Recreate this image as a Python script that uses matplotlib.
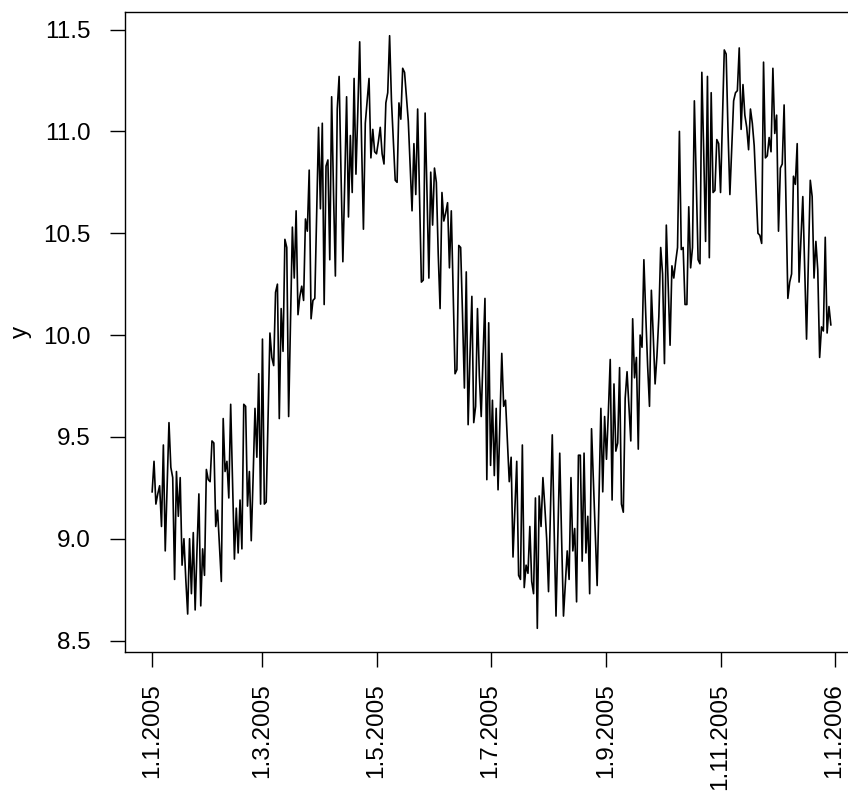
import numpy as np
import pandas as pd
import matplotlib
matplotlib.use("Agg")
import matplotlib.pyplot as plt

plt.rcParams['font.family'] = ['Liberation Sans', 'DejaVu Sans']

# daily values, starting 1.1.2005
jan = [9.23, 9.38, 9.17, 9.22, 9.26, 9.06, 9.46, 8.94, 9.25, 9.57,
       9.35, 9.30, 8.80, 9.33, 9.11, 9.30, 8.87, 9.00, 8.80, 8.63,
       9.00, 8.73, 9.03, 8.65, 8.95, 9.22, 8.67, 8.95, 8.82, 9.34, 9.29]
feb = [9.28, 9.48, 9.47, 9.06, 9.14, 8.96, 8.79, 9.59, 9.33, 9.38,
       9.20, 9.66, 9.28, 8.90, 9.15, 8.93, 9.19, 8.95, 9.66, 9.65,
       9.16, 9.33, 8.99, 9.30, 9.64, 9.40, 9.81, 9.17]
mar = [9.98, 9.17, 9.18, 9.60, 10.01, 9.89, 9.85, 10.21, 10.25, 9.59,
       10.13, 9.92, 10.47, 10.43, 9.60, 10.06, 10.53, 10.28, 10.61, 10.10,
       10.19, 10.24, 10.17, 10.57, 10.51, 10.81, 10.08, 10.17, 10.18, 10.60, 11.02]
apr = [10.62, 11.04, 10.15, 10.83, 10.86, 10.37, 11.17, 10.70, 10.29, 11.11,
       11.27, 10.80, 10.36, 10.75, 11.17, 10.58, 10.98, 10.70, 11.26, 10.79,
       11.10, 11.44, 10.95, 10.52, 11.04, 11.15, 11.26, 10.87, 11.01, 10.90]
may = [10.89, 10.95, 11.02, 10.89, 10.84, 11.14, 11.19, 11.47, 11.15, 10.95,
       10.76, 10.75, 11.14, 11.06, 11.31, 11.29, 11.17, 11.05, 10.83, 10.61,
       10.94, 10.69, 11.11, 10.68, 10.26, 10.27, 11.09, 10.70, 10.28, 10.80, 10.54]
jun = [10.82, 10.75, 10.40, 10.13, 10.70, 10.56, 10.60, 10.65, 10.33, 10.61,
       10.20, 9.81, 9.83, 10.44, 10.43, 10.10, 9.74, 10.31, 9.56, 9.90,
       10.19, 9.57, 9.65, 10.13, 9.80, 9.60, 9.90, 10.18, 9.29, 10.06]
jul = [9.36, 9.68, 9.31, 9.64, 9.24, 9.58, 9.91, 9.65, 9.68, 9.48,
       9.28, 9.40, 8.91, 9.15, 9.38, 8.82, 8.80, 9.46, 8.76, 8.87,
       8.83, 9.06, 8.79, 8.73, 9.20, 8.56, 9.21, 9.06, 9.30, 9.16, 9.00]
aug = [8.74, 9.12, 9.51, 9.05, 8.62, 9.02, 9.42, 9.00, 8.62, 8.78,
       8.94, 8.80, 9.30, 8.94, 9.05, 8.69, 9.41, 9.41, 8.89, 9.42,
       8.93, 9.11, 8.73, 9.54, 9.28, 9.02, 8.77, 9.20, 9.64, 9.23, 9.60]
sep = [9.39, 9.62, 9.88, 9.19, 9.76, 9.43, 9.47, 9.84, 9.17, 9.13,
       9.69, 9.82, 9.65, 9.48, 10.08, 9.79, 9.89, 9.44, 10.00, 9.94,
       10.37, 10.10, 9.85, 9.65, 10.22, 10.00, 9.76, 9.90, 10.09, 10.43]
oct_ = [10.30, 9.86, 10.54, 10.25, 9.95, 10.34, 10.28, 10.36, 10.43, 11.00,
        10.42, 10.43, 10.15, 10.15, 10.63, 10.33, 10.43, 11.15, 10.75, 10.37,
        10.35, 11.29, 10.90, 10.46, 11.27, 10.38, 11.19, 10.70, 10.71, 10.96, 10.94]
nov = [10.70, 11.05, 11.40, 11.38, 11.00, 10.69, 10.92, 11.15, 11.19, 11.20,
       11.41, 11.01, 11.23, 11.08, 11.02, 10.91, 11.11, 11.04, 10.93, 10.72,
       10.50, 10.49, 10.45, 11.34, 10.87, 10.88, 10.97, 10.90, 11.31, 10.99]
dec = [11.08, 10.51, 10.82, 10.84, 11.13, 10.65, 10.18, 10.26, 10.30, 10.78,
       10.74, 10.94, 10.26, 10.47, 10.68, 10.33, 9.98, 10.37, 10.76, 10.68,
       10.28, 10.46, 10.32, 9.89, 10.04, 10.02, 10.48, 10.01, 10.14, 10.05]

y = jan + feb + mar + apr + may + jun + jul + aug + sep + oct_ + nov + dec
dates = pd.date_range("2005-01-01", periods=len(y), freq="D")

tick_dates = pd.to_datetime(["2005-01-01", "2005-03-01", "2005-05-01", "2005-07-01",
                             "2005-09-01", "2005-11-01", "2006-01-01"])
tick_labels = ["1.1.2005", "1.3.2005", "1.5.2005", "1.7.2005",
               "1.9.2005", "1.11.2005", "1.1.2006"]
y_ticks = [8.5, 9.0, 9.5, 10.0, 10.5, 11.0, 11.5]

fig = plt.figure(figsize=(8.48, 7.93), dpi=100)
# plot region runs past the right edge, as in the reference
ax = fig.add_axes([125 / 848, 141 / 793, 733 / 848, 640 / 793])

ax.plot(dates, y, color="black", linewidth=1.2)
ax.margins(x=0.04, y=0.04)

ax.set_xticks(tick_dates)
ax.set_xticklabels(tick_labels, rotation=90, fontsize=17.5)
ax.set_yticks(y_ticks)
ax.set_yticklabels([f"{v:.1f}" for v in y_ticks], fontsize=17.5)
ax.tick_params(direction="out", length=11, width=1.0, colors="black")
ax.tick_params(axis="y", pad=13.5)
ax.tick_params(axis="x", pad=11.5)
ax.set_ylabel("y", fontsize=17.5, labelpad=8)

for s in ax.spines.values():
    s.set_linewidth(1.0)

plt.savefig("out.png", dpi=100)
